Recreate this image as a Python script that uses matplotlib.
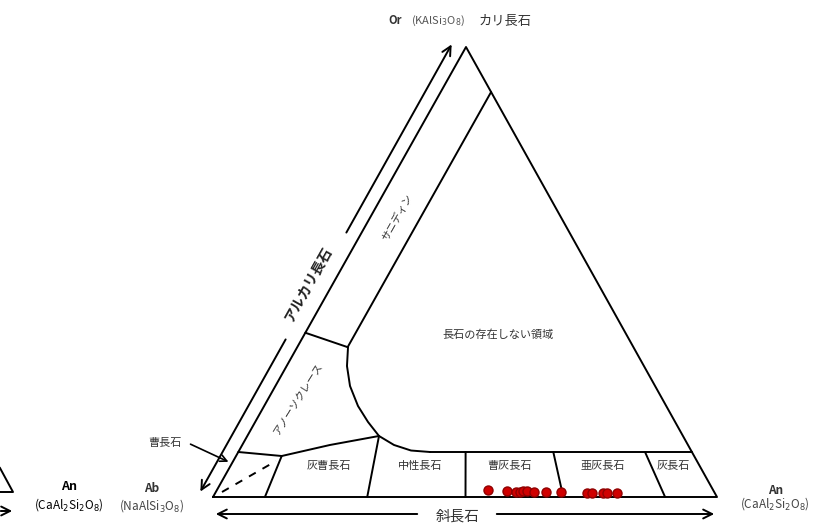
import matplotlib.pyplot as plt

plt.rcParams['font.family'] = ['Noto Sans CJK JP', 'DejaVu Sans']
plt.rcParams['mathtext.fontset'] = 'dejavusans'

# ---- data (compositions in %, An = anorthite, Or = orthoclase) ----
# measured plagioclase points
sample_an = [53.8, 57.6, 59.5, 60.3, 60.8, 61.6, 63.1, 65.5, 68.5,
             73.8, 74.8, 76.9, 77.7, 79.8]
sample_or = [1.6, 1.3, 1.2, 1.2, 1.3, 1.3, 1.2, 1.1, 1.1,
             0.8, 0.8, 0.9, 0.9, 0.8]

# field boundaries as (An, Or) pairs
plag_top = [(38.0, 10.0), (90.0, 10.0)]
sanidine_inner = [(10.0, 33.3), (10.0, 90.0)]
sanidine_anortho = [(0.0, 36.5), (10.0, 33.3)]
solvus = [(10.06, 33.33), (11.97, 29.11), (14.80, 24.67), (18.62, 20.22),
          (22.39, 16.67), (26.13, 13.56), (30.11, 11.56), (34.10, 10.33),
          (38.04, 10.0)]
oligoclase_top = [(0.0, 10.0), (9.06, 9.11), (17.4, 11.56), (26.13, 13.56)]
plag_dividers = [
    [(9.06, 9.11), (10.3, 0.0)],
    [(26.13, 13.56), (30.6, 0.0)],
    [(45.1, 10.0), (50.1, 0.0)],
    [(62.5, 10.0), (69.5, 0.0)],
    [(80.7, 10.0), (89.7, 0.0)],
]
albite_dash = [(1.23, 1.11), (8.49, 8.0)]

plag_names = ['灰曹長石', '中性長石', '曹灰長石', '亜灰長石', '灰長石']
plag_label_an = [19.4, 37.5, 55.4, 73.8, 87.9]

# ---- layout: triangle corners in figure pixels ----
AB = (213, 497)
AN = (717, 497)
OR = (466, 47)


def tern(an, orr):
    ab = 100.0 - an - orr
    x = (ab * AB[0] + an * AN[0] + orr * OR[0]) / 100.0
    y = (ab * AB[1] + an * AN[1] + orr * OR[1]) / 100.0
    return x, y


def draw(ax, pts, **kw):
    xy = [tern(a, o) for a, o in pts]
    ax.plot([p[0] for p in xy], [p[1] for p in xy], **kw)


fig = plt.figure(figsize=(8.23, 5.23), dpi=100)
ax = fig.add_axes([0, 0, 1, 1])
ax.set_xlim(0, 823)
ax.set_ylim(523, 0)
ax.axis('off')

k = dict(color='black', lw=1.4, solid_capstyle='round', solid_joinstyle='round')
draw(ax, [(0, 0), (100, 0), (0, 100), (0, 0)], **k)
for seg in [plag_top, sanidine_inner, sanidine_anortho, solvus, oligoclase_top]:
    draw(ax, seg, **k)
for seg in plag_dividers:
    draw(ax, seg, **k)
draw(ax, albite_dash, color='black', lw=1.4, ls=(0, (4, 4)))

# samples
xs, ys = zip(*[tern(a, o) for a, o in zip(sample_an, sample_or)])
ax.plot(xs, ys, 'o', color='#d00000', mec='#900000', ms=6.5, zorder=5)

# field labels
tc = '#333333'
for name, a in zip(plag_names, plag_label_an):
    x, y = tern(a, 7.0)
    ax.text(x, y, name, fontsize=8, color=tc, ha='center', va='center')
x, y = tern(38.5, 36)
ax.text(x, y, '長石の存在しない領域', fontsize=8, color=tc, ha='center', va='center')
x, y = tern(5.3, 62.2)
ax.text(x, y, 'サニディン', fontsize=7.5, color=tc, ha='center', va='center', rotation=60.6)
x, y = tern(6.1, 21.8)
ax.text(x, y, 'アノーソクレース', fontsize=7.5, color=tc, ha='center', va='center', rotation=58)

# albite pointer
ax.annotate('', xy=(231, 463), xytext=(188, 443),
            arrowprops=dict(arrowstyle='->', lw=1.2, color='black', mutation_scale=12))
ax.text(165, 443, '曹長石', fontsize=8, color=tc, ha='center', va='center')

# alkali feldspar arrow
ap = dict(arrowstyle='->', lw=1.4, color='black', mutation_scale=16)
ax.annotate('', xy=(453, 42), xytext=(345, 235), arrowprops=ap)
ax.annotate('', xy=(199, 494), xytext=(287, 337), arrowprops=ap)
ax.text(308, 284, 'アルカリ長石', fontsize=10, color='#222222', weight='bold',
        ha='center', va='center', rotation=60.6)

# plagioclase arrow
ax.annotate('', xy=(213, 514), xytext=(420, 514), arrowprops=ap)
ax.annotate('', xy=(717, 514), xytext=(494, 514), arrowprops=ap)
ax.text(458, 517, '斜長石', fontsize=10.5, color=tc, ha='center', va='center')

# corner labels
ax.text(395, 21, 'Or', fontsize=8, weight='bold', color='#333333', ha='center', va='center')
ax.text(438, 21, '(KAlSi$_3$O$_8$)', fontsize=8, color='#555555', ha='center', va='center')
ax.text(505, 21, 'カリ長石', fontsize=9.5, color='#333333', ha='center', va='center')

ax.text(152, 489, 'Ab', fontsize=8.5, weight='bold', color='#333333', ha='center', va='center')
ax.text(152, 506, '(NaAlSi$_3$O$_8$)', fontsize=8.5, color='#444444', ha='center', va='center')

ax.text(776, 490, 'An', fontsize=8.5, weight='bold', color='#333333', ha='center', va='center')
ax.text(775, 504, '(CaAl$_2$Si$_2$O$_8$)', fontsize=8.5, color='#444444', ha='center', va='center')

# cropped piece of the neighbouring diagram on the left
ax.text(69, 487, 'An', fontsize=9, weight='bold', color='black', ha='center', va='center')
ax.text(69, 505, '(CaAl$_2$Si$_2$O$_8$)', fontsize=8.5, color='black', ha='center', va='center')
ax.plot([0, 13, 0], [468, 492, 492], color='black', lw=1.4)
ax.annotate('', xy=(15, 511), xytext=(-2, 511), arrowprops=ap)

fig.savefig('out.png', dpi=100)
